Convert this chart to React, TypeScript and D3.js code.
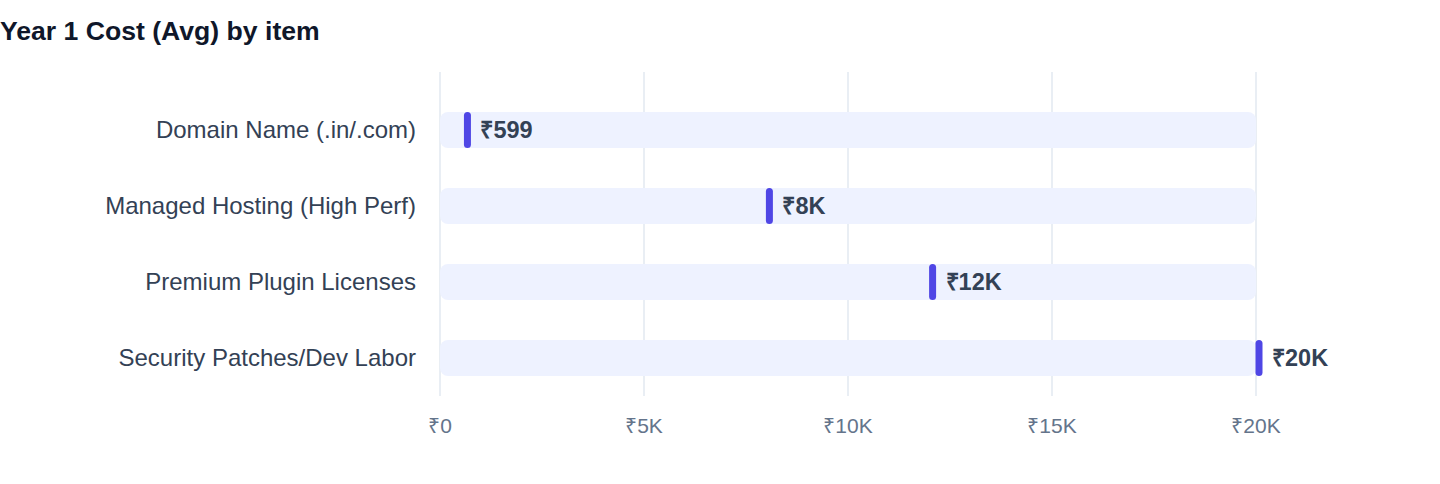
import React from "react";
import * as d3 from "d3";

const categories = [
  "Domain Name (.in/.com)",
  "Managed Hosting (High Perf)",
  "Premium Plugin Licenses",
  "Security Patches/Dev Labor",
];
const values = [599, 8000, 12000, 20000];
const valueLabels = ["₹599", "₹8K", "₹12K", "₹20K"];
const tickValues = [0, 5000, 10000, 15000, 20000];
const tickLabels = ["₹0", "₹5K", "₹10K", "₹15K", "₹20K"];
const title = "Year 1 Cost (Avg) by item";

const W = 1440;
const H = 484;
const FONT = "'Helvetica Neue', Helvetica, 'Liberation Sans', Arial, sans-serif";

export default function App() {
  React.useEffect(() => {
    document.body.style.margin = "0";
  }, []);
  const x = d3.scaleLinear().domain([0, 20000]).range([440, 1256]);
  const y = d3.scaleBand<string>().domain(categories).range([92, 396]).padding(0);
  const barH = 36;
  const markW = 7;
  return (
    <svg width={W} height={H} style={{ display: "block", position: "absolute", left: 0, top: 0 }} fontFamily={FONT}>
      <rect width={W} height={H} fill="#ffffff" />
      <text x={0} y={40} fontSize={26.6} fontWeight={700} fill="#0f172a">{title}</text>
      {tickValues.map((t, i) => (
        <g key={t}>
          <line x1={x(t)} x2={x(t)} y1={72} y2={396} stroke="#e2e8f0" strokeWidth={1.5} />
          <text x={x(t)} y={433} textAnchor="middle" fontSize={21} fill="#64748b">{tickLabels[i]}</text>
        </g>
      ))}
      {categories.map((c, i) => {
        const cy = (y(c) as number) + y.bandwidth() / 2;
        return (
          <g key={c}>
            <rect x={x(0)} y={cy - barH / 2} width={x(20000) - x(0)} height={barH} rx={8} fill="#eef2ff" />
            <rect x={x(values[i]) - 0.5} y={cy - barH / 2} width={markW} height={barH} rx={3.5} fill="#4f46e5" />
            <text x={416} y={cy} dy="0.35em" textAnchor="end" fontSize={24} fill="#334155">{c}</text>
            <text x={x(values[i]) + markW + 9} y={cy} dy="0.35em" fontSize={23.5} fontWeight={700} fill="#334155">{valueLabels[i]}</text>
          </g>
        );
      })}
    </svg>
  );
}
